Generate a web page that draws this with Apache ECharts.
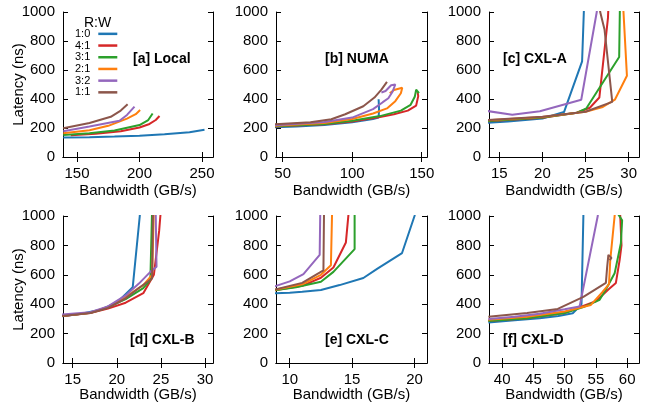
<!DOCTYPE html>
<html><head><meta charset="utf-8">
<script src="https://cdn.jsdelivr.net/npm/echarts@6/dist/echarts.min.js"></script>
<style>html,body{margin:0;padding:0;background:#fff}#c{width:652px;height:408px}</style>
</head><body><div id="c"></div>
<script>
// ---- data ----
const ratios = ['1:0', '4:1', '3:1', '2:1', '3:2', '1:1'];
const yTicks = [0, 200, 400, 600, 800, 1000];
const panelNames = ['[a] Local', '[b] NUMA', '[c] CXL-A', '[d] CXL-B', '[e] CXL-C', '[f] CXL-D'];
const xTicksA = [150, 200, 250];
const xTicksB = [50, 100, 150];
const xTicksC = [15, 20, 25, 30];
const xTicksD = [15, 20, 25, 30];
const xTicksE = [10, 15, 20];
const xTicksF = [40, 45, 50, 55, 60];

// [a] Local
const a_10 = [[139,134],[160,137],[180,141],[200,147],[220,157],[240,171],[252,188]];
const a_41 = [[145,150],[165,160],[185,178],[200,203],[208,228],[213,255],[216,283]];
const a_31 = [[139,152],[160,163],[180,183],[200,220],[207,255],[210.5,300]];
const a_21 = [[139,163],[160,185],[175,215],[190,265],[197,295],[200.5,324]];
const a_32 = [[139,178],[160,210],[184,250],[190,290],[196,347]];
const a_11 = [[139,198],[160,235],[177,277],[185,320],[190.5,363]];
// [b] NUMA
const b_10 = [[44,205],[60,210],[80,220],[100,240],[115,262],[119,272],[119.3,330],[119,398]];
const b_41 = [[44,210],[80,225],[100,245],[120,275],[130,295],[140,320],[146,355],[147.5,420],[147,450]];
const b_31 = [[44,212],[80,228],[100,250],[120,282],[135,320],[142,360],[145,415],[146,465],[148,440]];
const b_21 = [[44,215],[80,235],[100,262],[115,300],[125,335],[131,385],[135,440],[136,478],[130,462],[127,440]];
const b_32 = [[44,218],[80,242],[100,272],[115,330],[122,378],[126,405],[129,450],[131,500],[128,495],[124,455],[121,445]];
const b_11 = [[44,225],[70,240],[85,260],[95,295],[108,350],[116,410],[121,465],[125,518]];
// [c] CXL-A
const c_10 = [[13.5,235],[16,245],[20,265],[22.5,310],[24.6,660],[24.8,1000],[24.85,1100]];
const c_41 = [[13.5,245],[20,270],[24,305],[25.5,340],[26.6,410],[27.6,960],[27.7,1100]];
const c_31 = [[13.5,248],[20,272],[24,305],[25.1,336],[28.9,690],[29.0,1100]];
const c_21 = [[13.5,252],[20,276],[25,312],[27,345],[28.4,395],[29.8,560],[29.4,1000],[29.3,1100]];
const c_32 = [[13.5,318],[16.5,292],[19.7,316],[24.5,395],[26.3,1000],[26.4,1100]];
const c_11 = [[13.5,255],[20,277],[25,312],[28.1,380],[27.2,880],[26.7,1000],[26.6,1100]];
// [d] CXL-B
const d_10 = [[13.8,318],[16,335],[18,360],[20,410],[21.8,515],[22.6,1000],[22.65,1050]];
const d_41 = [[13.8,320],[17,340],[19,370],[21,410],[23,475],[24.2,600],[24.8,900],[25.0,1050]];
const d_31 = [[13.8,322],[17,342],[19,378],[21,435],[23,510],[23.8,565],[24.0,1050]];
const d_21 = [[13.8,320],[17,342],[19,382],[21,450],[23,530],[24,600],[24.2,1050]];
const d_32 = [[13.8,330],[17,345],[19,385],[21,460],[22.5,540],[23.8,620],[24.5,655],[24.4,1050]];
const d_11 = [[13.8,320],[17,340],[19,375],[21,440],[22.5,510],[24.0,575],[24.1,1050]];
// [e] CXL-C
const e_10 = [[8.8,475],[10,478],[11,485],[12.5,497],[14,530],[15.9,578],[17,640],[19.0,748],[20.0,1000],[20.05,1020]];
const e_41 = [[8.8,495],[11,525],[12.5,580],[13.5,650],[14.5,820],[14.75,1050]];
const e_31 = [[8.8,495],[10.5,515],[12.5,553],[13.5,620],[15.2,775],[15.2,1050]];
const e_21 = [[8.8,498],[11,535],[12.5,600],[13.3,665],[13.4,1050]];
const e_32 = [[8.8,522],[10,555],[11.1,605],[12.4,735],[12.45,1050]];
const e_11 = [[8.8,500],[11,545],[12.7,630],[12.75,1050]];
// [f] CXL-D
const f_10 = [[37.8,275],[42,290],[46,305],[49,320],[51.3,338],[52.7,400],[53.0,1000],[53.0,1050]];
const f_41 = [[37.8,285],[44,305],[50,340],[55,420],[57,500],[58.2,545],[58.8,700],[59.1,800],[58.9,1000],[58.8,1050]];
const f_31 = [[37.8,285],[44,305],[50,340],[53,380],[55.6,430],[56.6,500],[58.0,610],[59.0,815],[59.2,970],[58.6,1010]];
const f_21 = [[37.8,295],[44,315],[50,350],[54.2,395],[56,480],[57.1,537],[57.3,700],[58.0,1000],[58.1,1050]];
const f_32 = [[37.8,300],[42,315],[46,335],[50,365],[52.4,385],[55.3,1000],[55.4,1050]];
const f_11 = [[37.8,315],[44,340],[48.9,368],[53,450],[56.6,545],[56.8,650],[57.0,735],[57.5,715],[57.2,700]];

// ---- layout / style ----
const colors = ['#1f77b4', '#d62728', '#2ca02c', '#ff7f0e', '#9467bd', '#8c564b'];
const FONT = 'Liberation Sans, Arial, Helvetica, sans-serif';
const panels = [
  {data:[a_10,a_41,a_31,a_21,a_32,a_11], ticks:xTicksA, min:138.8, max:258.8, grid:{left:63,top:12,width:150,height:145}, lab:[133,59], yName:true},
  {data:[b_10,b_41,b_31,b_21,b_32,b_11], ticks:xTicksB, min:45.2, max:153.8, grid:{left:276,top:12,width:151,height:145}, lab:[325,59], yName:false},
  {data:[c_10,c_41,c_31,c_21,c_32,c_11], ticks:xTicksC, min:13.8, max:31.2, grid:{left:489,top:12,width:150,height:145}, lab:[503,59], yName:false},
  {data:[d_10,d_41,d_31,d_21,d_32,d_11], ticks:xTicksD, min:13.9, max:30.9, grid:{left:63,top:216,width:150,height:147}, lab:[130,340], yName:true},
  {data:[e_10,e_41,e_31,e_21,e_32,e_11], ticks:xTicksE, min:8.9, max:21.0, grid:{left:276,top:216,width:151,height:147}, lab:[325,340], yName:false},
  {data:[f_10,f_41,f_31,f_21,f_32,f_11], ticks:xTicksF, min:37.9, max:61.9, grid:{left:489,top:216,width:150,height:147}, lab:[503,340], yName:false}
];

const grids = [], xAxes = [], yAxes = [], series = [], graphics = [];
const axisLine = {show:true, lineStyle:{color:'#000', width:1}};
const tick = (vals) => ({show:true, inside:true, length:5, lineStyle:{color:'#000', width:1}, customValues: vals});
const plain = (v) => String(v);
panels.forEach((p, i) => {
  grids.push(Object.assign({containLabel:false}, p.grid));
  const top = i < 3;
  xAxes.push({type:'value', gridIndex:i, min:p.min, max:p.max, position:'bottom',
    axisLine, axisTick:tick(p.ticks), splitLine:{show:false},
    axisLabel:{customValues:p.ticks, formatter:plain, color:'#000', fontFamily:FONT, fontSize:15, margin:9},
    name:'Bandwidth (GB/s)', nameLocation:'middle', nameGap: top ? 26 : 24, nameMoveOverlap:false,
    nameTextStyle:{color:'#000', fontFamily:FONT, fontSize:15}});
  xAxes.push({type:'value', gridIndex:i, min:p.min, max:p.max, position:'top',
    axisLine, axisTick:tick(p.ticks), axisLabel:{show:false}, splitLine:{show:false}});
  yAxes.push({type:'value', gridIndex:i, min:0, max:1000, position:'left',
    axisLine, axisTick:tick(yTicks), splitLine:{show:false},
    axisLabel:{customValues:yTicks, formatter:plain, color:'#000', fontFamily:FONT, fontSize:15, margin:8},
    name: p.yName ? 'Latency (ns)' : '', nameLocation:'middle', nameGap:37, nameMoveOverlap:false,
    nameTextStyle:{color:'#000', fontFamily:FONT, fontSize:15}});
  yAxes.push({type:'value', gridIndex:i, min:0, max:1000, position:'right',
    axisLine, axisTick:tick(yTicks), axisLabel:{show:false}, splitLine:{show:false}});
  p.data.forEach((d, k) => {
    series.push({type:'line', name:ratios[k], data:d, xAxisIndex:2*i, yAxisIndex:2*i,
      symbol:'none', showSymbol:false, clip:true, color:colors[k],
      lineStyle:{width:2, color:colors[k]}, emphasis:{disabled:true}, silent:true});
  });
  graphics.push({type:'text', x:p.lab[0], y:p.lab[1],
    style:{text:panelNames[i], font:'bold 14px ' + FONT, fill:'#000', verticalAlign:'middle'}});
});
graphics.push({type:'text', x:84, y:23, style:{text:'R:W', font:'14px ' + FONT, fill:'#000', verticalAlign:'middle'}});

const chart = echarts.init(document.getElementById('c'), null, {renderer:'canvas'});
chart.setOption({
  animation:false,
  backgroundColor:'#fff',
  grid:grids, xAxis:xAxes, yAxis:yAxes, series,
  legend:{data:ratios, orient:'vertical', left:75, top:28, padding:0, align:'right',
    icon:'rect', itemWidth:19, itemHeight:2.5, itemGap:0, selectedMode:false,
    itemStyle:{borderWidth:0},
    textStyle:{fontFamily:FONT, fontSize:11, color:'#000', lineHeight:11.7, padding:[0,3,0,0]}},
  graphic:graphics
});
</script></body></html>
